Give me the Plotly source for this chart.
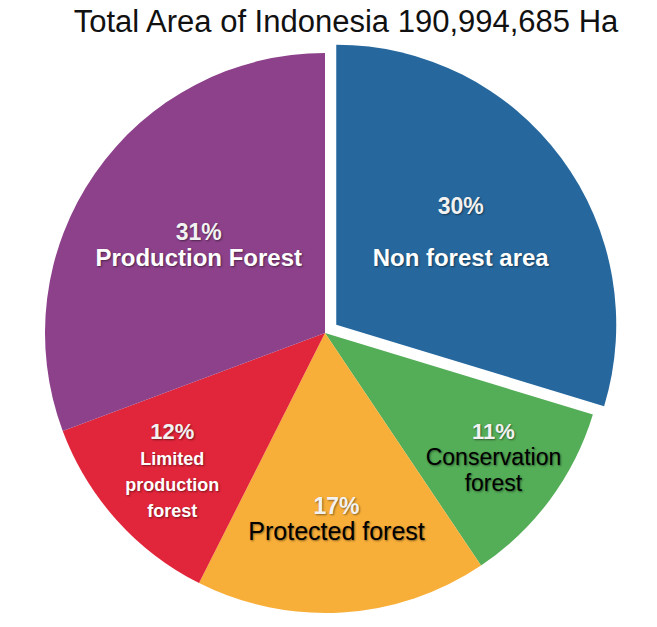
import plotly.graph_objects as go

# ---- data ----
categories = ["Non forest area", "Conservation<br>forest", "Protected forest",
              "Limited<br>production<br>forest", "Production Forest"]
percent_values = [30, 11, 17, 12, 31]
percent_labels = ["30%", "11%", "17%", "12%", "31%"]
title_text = "Total Area of Indonesia 190,994,685 Ha"

# ---- styles ----
colors = ["#26689E", "#54AD57", "#F8AF39", "#E1253A", "#8C418A"]
label_colors = ["white", "black", "black", "white", "white"]
label_bold = [True, False, False, True, True]
label_sizes = [24, 23, 25, 18, 24]
pct_sizes = [23, 22, 23, 22, 23]
BASE = 20
blank_lines = [1, 0, 0, 0, 0]
pulls = [0.05, 0, 0, 0, 0]

texts = []
for i in range(len(categories)):
    lab = categories[i]
    if label_bold[i]:
        lab = "<b>" + lab.replace("<br>", "</b><br><b>") + "</b>"
    lab_lines = lab.split("<br>")
    lab = "<br>".join(f"<span style='font-size:{label_sizes[i]}px'>{l}</span>" for l in lab_lines)
    pct = f"<span style='font-size:{pct_sizes[i]}px;color:#f2f2f2'><b>{percent_labels[i]}</b></span>"
    texts.append(pct + "<br>" * (1 + blank_lines[i]) + lab)

fig = go.Figure(go.Pie(
    values=percent_values,
    labels=[c.replace("<br>", " ") for c in categories],
    text=texts,
    textinfo="text",
    textposition="inside",
    insidetextorientation="horizontal",
    sort=False,
    direction="clockwise",
    rotation=0,
    pull=pulls,
    marker=dict(colors=colors, line=dict(width=0)),
    textfont=dict(family="Liberation Sans, Arial, sans-serif", color=label_colors,
                  size=BASE, shadow="1px 1px 2px rgba(0,0,0,0.45)"),
    hoverinfo="label+text",
    showlegend=False,
))

fig.update_layout(
    width=657, height=627,
    margin=dict(l=31, r=38, t=39, b=0),
    paper_bgcolor="white",
    plot_bgcolor="white",
    uniformtext=dict(mode="show", minsize=BASE),
    title=dict(text=title_text, x=346 / 657, xref="container", xanchor="center",
               y=1 - 21 / 627, yref="container", yanchor="middle",
               font=dict(family="Liberation Sans, Arial, sans-serif", size=31, color="#111111")),
)

fig.write_html("out.html")
